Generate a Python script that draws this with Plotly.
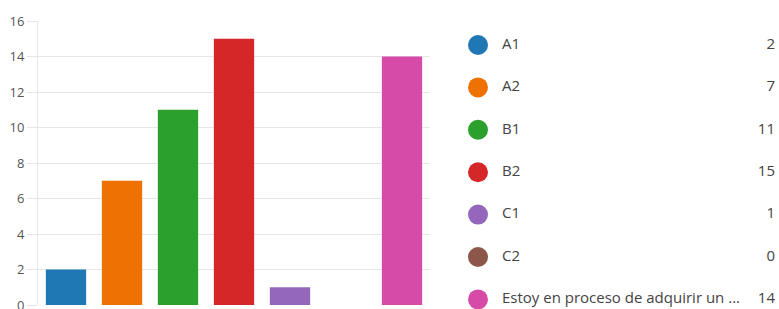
import plotly.graph_objects as go

categories = ["A1", "A2", "B1", "B2", "C1", "C2", "Estoy en proceso de adquirir un ..."]
values = [2, 7, 11, 15, 1, 0, 14]
colors = ["#1f77b4", "#ee7203", "#2ca02c", "#d62728", "#9467bd", "#8c564b", "#d64ba8"]
y_ticks = [0, 2, 4, 6, 8, 10, 12, 14, 16]

W, H = 779, 309
FONT = "Open Sans, Noto Sans, sans-serif"
rows = list(range(len(categories)))

fig = go.Figure()

# Bars
fig.add_trace(go.Bar(
    x=categories, y=values,
    marker=dict(color=colors, line=dict(width=0)),
    xaxis="x", yaxis="y", showlegend=False, hoverinfo="x+y",
))

# Legend (circles, labels, counts)
fig.add_trace(go.Scatter(
    x=[478] * len(categories), y=rows, mode="markers",
    marker=dict(size=20, color=colors, line=dict(width=0)),
    xaxis="x2", yaxis="y2", showlegend=False, hoverinfo="skip", cliponaxis=False,
))
fig.add_trace(go.Scatter(
    x=[502] * len(categories), y=rows, mode="text",
    text=categories, textposition="middle right",
    textfont=dict(size=15, color="#444444", family=FONT),
    xaxis="x2", yaxis="y2", showlegend=False, hoverinfo="skip", cliponaxis=False,
))
fig.add_trace(go.Scatter(
    x=[775] * len(categories), y=rows, mode="text",
    text=[str(v) for v in values], textposition="middle left",
    textfont=dict(size=15, color="#444444", family=FONT),
    xaxis="x2", yaxis="y2", showlegend=False, hoverinfo="skip", cliponaxis=False,
))

fig.update_layout(
    width=W, height=H,
    margin=dict(l=0, r=0, t=0, b=0, autoexpand=False),
    paper_bgcolor="white", plot_bgcolor="rgba(0,0,0,0)",
    bargap=0.28,
    font=dict(family=FONT, size=12, color="#555555"),
    xaxis=dict(
        domain=[38 / W, 430 / W], type="category", automargin=False,
        showticklabels=False, showgrid=False, zeroline=False,
        showline=False, ticks="",
    ),
    yaxis=dict(
        domain=[4 / H, 288 / H], range=[0, 16], automargin=False,
        tickvals=y_ticks, ticktext=[str(t) for t in y_ticks],
        ticklabeloverflow="allow",
        showgrid=True, gridcolor="#e6e6e6", gridwidth=1,
        zeroline=False, showline=True, linecolor="#e6e6e6", linewidth=1,
        ticks="outside", ticklen=10, tickcolor="#e6e6e6", tickwidth=1,
        tickfont=dict(size=13, color="#555555", family=FONT),
    ),
    xaxis2=dict(
        domain=[450 / W, 1], range=[450, W], visible=False, fixedrange=True,
        automargin=False,
    ),
    yaxis2=dict(
        domain=[0, 1], range=[6.226, -1.061], automargin=False,
        visible=False, fixedrange=True,
    ),
)

fig.write_html(
    "out.html",
    config={"displayModeBar": False},
    post_script="document.body.style.margin='0';document.body.style.padding='0';"
                "document.body.style.overflow='hidden';",
)
